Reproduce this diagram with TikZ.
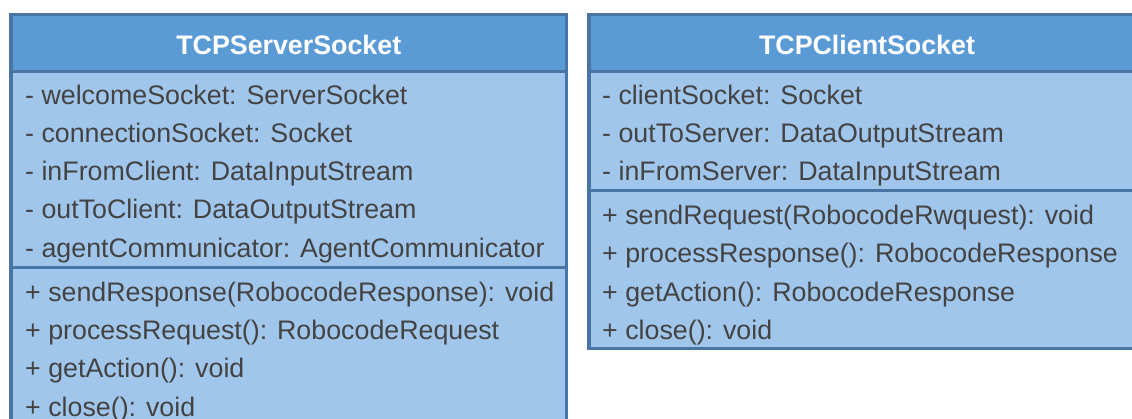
\documentclass[tikz,border=0pt]{standalone}
\usepackage{fontspec}
\setmainfont{Liberation Sans}
\definecolor{umlborder}{HTML}{4875A3}
\definecolor{umlhead}{HTML}{5B9BD5}
\definecolor{umlbody}{HTML}{A1C6EC}
\definecolor{umltext}{HTML}{434343}
\begin{document}
\begin{tikzpicture}[x=1pt,y=-1pt,
  classframe/.style={draw=umlborder, line width=3.5pt},
  divider/.style={draw=umlborder, line width=3pt},
  classtitle/.style={font=\fontsize{26.8}{30}\selectfont\bfseries, text=white, inner sep=0pt, anchor=base},
  member/.style={font=\fontsize{26.8}{30}\selectfont, text=umltext, inner sep=0pt, anchor=base west}]
\useasboundingbox (0,0) rectangle (1132,418);
\clip (0,0) rectangle (1132,418);

% TCPServerSocket class box
\fill[umlbody] (11,14.5) rectangle (566.5,440);
\fill[umlhead] (11,14.5) rectangle (566.5,71.5);
\draw[divider] (11,71.5) -- (566.5,71.5);
\draw[divider] (11,267.5) -- (566.5,267.5);
\draw[classframe] (11,14.5) rectangle (566.5,440);
\node[classtitle] (srvtitle) at (288.75,54) {TCPServerSocket};
\node[member] (srva1) at (25,104) {- welcomeSocket: ServerSocket};
\node[member] (srva2) at (25,142.3) {- connectionSocket: Socket};
\node[member] (srva3) at (25,180.6) {- inFromClient: DataInputStream};
\node[member] (srva4) at (25,218.9) {- outToClient: DataOutputStream};
\node[member] (srva5) at (25,257.2) {- agentCommunicator: AgentCommunicator};
\node[member] (srvm1) at (25,301.1) {+ sendResponse(RobocodeResponse): void};
\node[member] (srvm2) at (25,339.4) {+ processRequest(): RobocodeRequest};
\node[member] (srvm3) at (25,377.7) {+ getAction(): void};
\node[member] (srvm4) at (25,416) {+ close(): void};

% TCPClientSocket class box
\fill[umlbody] (589,14.5) rectangle (1145,348.5);
\fill[umlhead] (589,14.5) rectangle (1145,71.5);
\draw[divider] (589,71.5) -- (1145,71.5);
\draw[divider] (589,190.5) -- (1145,190.5);
\draw[classframe] (589,14.5) rectangle (1145,348.5);
\node[classtitle] (clititle) at (867,54) {TCPClientSocket};
\node[member] (clia1) at (602,104) {- clientSocket: Socket};
\node[member] (clia2) at (602,142.3) {- outToServer: DataOutputStream};
\node[member] (clia3) at (602,180.6) {- inFromServer: DataInputStream};
\node[member] (clim1) at (602,224.5) {+ sendRequest(RobocodeRwquest): void};
\node[member] (clim2) at (602,262.8) {+ processResponse(): RobocodeResponse};
\node[member] (clim3) at (602,301.1) {+ getAction(): RobocodeResponse};
\node[member] (clim4) at (602,339.4) {+ close(): void};
\end{tikzpicture}
\end{document}
